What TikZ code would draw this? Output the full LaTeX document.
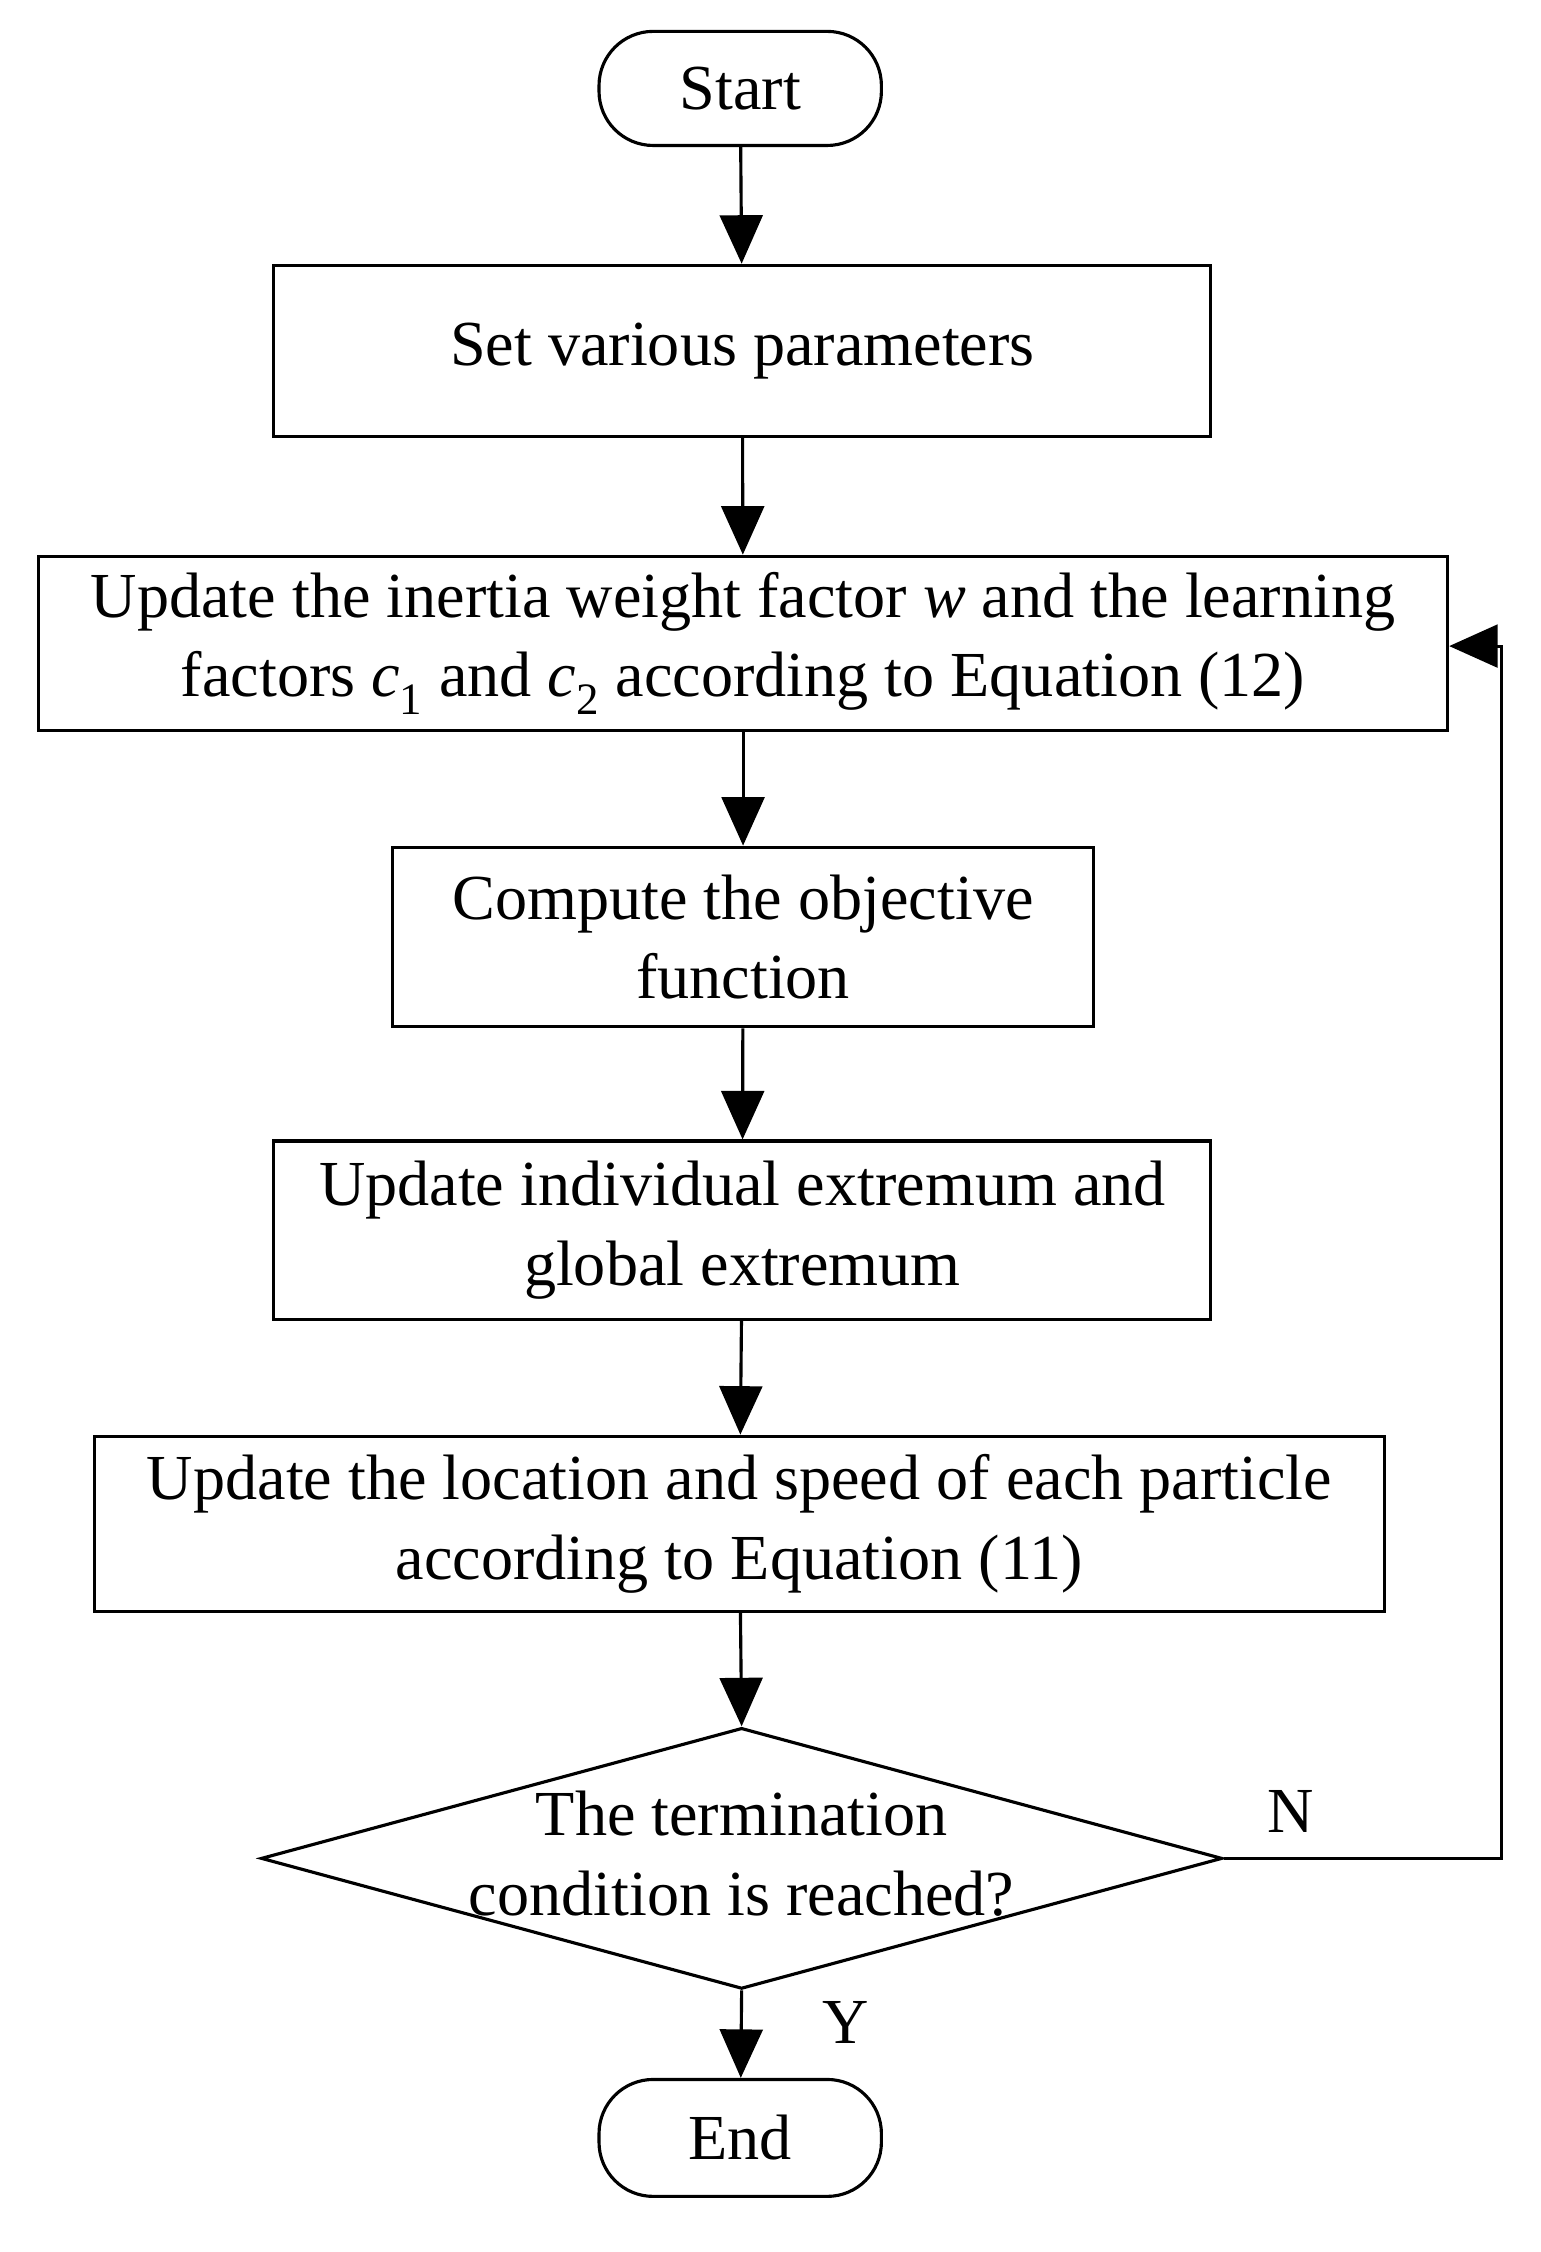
\documentclass[tikz,border=0pt]{standalone}
\usepackage{fontspec}
\setmainfont{Liberation Serif}
\usetikzlibrary{shapes.geometric,arrows.meta}
\begin{document}
\begin{tikzpicture}[x=1pt,y=-1pt,
  every node/.style={font=\fontsize{45}{56}\selectfont, align=center, line width=2.2pt, inner sep=0pt},
  box/.style={draw, rectangle},
  term/.style={draw, rounded corners=38pt},
  arr/.style={line width=2.2pt, -{Triangle[width=30pt,length=34pt]}}]
\useasboundingbox (0,0) rectangle (1080,1579);
\node[term, minimum width=198pt, minimum height=80pt] (s) at (519,62) {Start};
\node[box, minimum width=657pt, minimum height=120pt] (b1) at (520.5,246) {Set various parameters};
\node[box, minimum width=988pt, minimum height=122pt] (b2) at (521,451) {Update the inertia weight factor \textit{w} and the learning\\factors \textit{c}\textsubscript{1} and \textit{c}\textsubscript{2} according to Equation (12)};
\node[box, minimum width=492pt, minimum height=126pt] (b3) at (521,657) {Compute the objective\\function};
\node[box, minimum width=657pt, minimum height=125pt] (b4) at (520.5,862.5) {Update individual extremum and\\global extremum};
\node[box, minimum width=905pt, minimum height=123pt] (b5) at (518.5,1068.5) {Update the location and speed of each particle\\according to Equation (11)};
\node[draw, diamond, aspect=3.68, minimum width=674pt, minimum height=183pt] (d) at (520,1303) {};
\node at (520,1300) {The termination\\condition is reached?};
\node[term, minimum width=198pt, minimum height=82pt] (e) at (519,1499) {End};
\draw[arr] (s) -- (b1);
\draw[arr] (b1) -- (b2);
\draw[arr] (b2) -- (b3);
\draw[arr] (b3) -- (b4);
\draw[arr] (b4) -- (b5);
\draw[arr] (b5) -- (d.north);
\draw[arr] (d.south) -- (e);
\coordinate (c1) at (1053,1303);
\coordinate (c2) at (1053,453);
\draw[arr] (d.east) -- (c1) -- (c2) -- (b2.east |- c2);
\node (n) at (905,1270) {N};
\node (y) at (593,1418) {Y};
\end{tikzpicture}
\end{document}
